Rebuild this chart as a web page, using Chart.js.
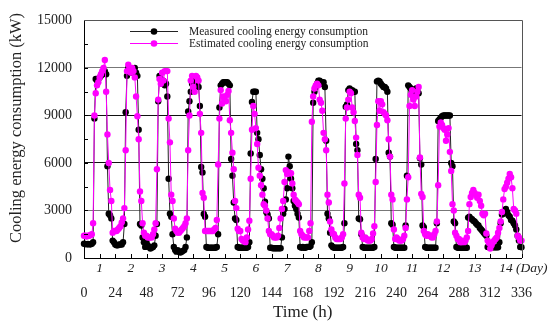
<!DOCTYPE html>
<html>
<head>
<meta charset="utf-8">
<script src="https://cdn.jsdelivr.net/npm/chart.js@4.4.1/dist/chart.umd.min.js"></script>
<style>
html,body{margin:0;padding:0;background:#fff;}
#c{display:block;}
</style>
</head>
<body>
<canvas id="c" width="559" height="324"></canvas>
<script>
// ---- data (hourly, one row per day, 24 values per row) ----
const measured = [
  [900,880,870,880,860,870,900,1000, 8800,11300,11200,11300,11400,11500,11600,11700,11800,11600, 5800,2800,2700,2500,1100,1000],
  [850,800,800,850,850,850,1000,2150, 9200,11500,12000,11800,11900,11700,11800,12000,11700,11500, 8100,2150,2050,1300,1000,700],
  [1000,800,700,600,650,700,800,1400, 2150,9900,11500,11300,11000,11200,10900,11000,10200,5000, 2800,2600,1500,700,500,400],
  [500,400,350,400,450,500,700,1300, 9250,9900,10500,11000,11200,11000,10800,11100,10800,9600, 5750,5400,2780,2600,700,650],
  [650,650,650,650,650,650,700,1500, 9500,10900,11000,11100,11100,11100,11100,11000,10900,6250, 5200,3500,2500,2400,700,650],
  [650,650,650,650,650,650,700,1000, 6600,9850,10500,10500,10500,7900,7500,6500,5600,5000, 4400,3550,2900,2750,2500,650],
  [650,620,620,620,620,620,620,620, 1300,2800,3100,3700,4400,6400,5800,5000,4400,3600, 3300,3100,2800,2550,700,650],
  [700,650,650,700,700,700,750,1000, 9800,10500,10800,11000,11200,11200,11100,11000,11100,10800, 7400,2800,2500,1600,800,700],
  [650,650,650,650,650,650,650,700, 2200,9550,9700,10600,10700,10600,10600,10500,10500,7200, 6800,2500,2450,1500,700,650],
  [650,650,650,650,650,650,650,700, 6250,11150,11200,11150,11000,10900,10800,10800,10700,10500, 6650,6400,2200,2100,700,650],
  [650,650,650,650,650,650,650,2050, 5200,10900,10800,10700,10600,10500,10600,10700,10700,10400, 6300,5900,2050,1950,700,650],
  [650,650,650,650,650,650,650,2200, 8650,8750,8850,8950,9000,9000,9000,9000,9000,9000, 6000,5800,2300,2200,700,650],
  [650,650,650,650,650,650,650,2550, 2600,2500,2450,2350,2300,2200,2100,2050,1900,1800, 1700,1600,1500,1400,700,680],
  [680,680,680,680,680,680,680,1000, 2200,2750,2800,2900,3100,2900,2700,2600,2400,2350, 2200,2050,1800,1400,1100,700]
];
const measuredLast = 680;

const estimated = [
  [1400,1400,1350,1400,1400,1450,1500,2200, 9000,10400,10900,11100,11400,11600,11800,12000,12500,10500, 7800,6000,4300,3600,1600,1700],
  [1700,1700,1800,1900,2000,2250,2500,3150, 6800,11800,12200,12000,11700,12000,11800,11400,10200,8950, 7500,4200,3600,2200,1600,1400],
  [1400,1300,1300,1300,1300,1500,1800,2200, 5600,10000,11300,11000,11700,11200,11800,11800,11800,8800, 7300,4000,3600,2500,1850,1700],
  [1600,1600,1700,1800,1900,2000,2200,2500, 6800,9000,11200,11500,10800,10500,11500,11400,11200,9100, 7900,4100,3800,1700,1700,1700],
  [1700,1700,1700,1700,1800,1900,2400,5900, 8800,10600,9750,10200,10000,9900,10300,10550,8700,7900, 6650,5600,3600,3150,1850,1700],
  [1700,1200,1100,1050,1000,1300,1800,2350, 5000,8100,9600,9100,8200,7200,5700,5200,4600,4000, 3400,3300,3000,2500,1700,1500],
  [1500,1400,1300,1300,1300,1400,1900,2500, 3100,3600,4800,5550,5300,5400,5350,5350,4700,4000, 3700,3600,3500,3400,1700,1500],
  [1400,1300,1300,1300,1300,1700,2200,8600, 10200,10700,10900,11000,10900,10000,9800,9300,7900,7500, 6800,4000,3500,2300,1800,1550],
  [1500,1300,1200,1200,1200,1200,1300,1500, 4700,8800,9500,10000,10500,10400,9500,9200,8650,7600, 6500,4000,3800,1600,1300,1200],
  [1300,1200,1100,1100,1100,1200,1550,2000, 4800,8400,9900,9300,9900,9700,9200,9100,9000,8700, 7500,6400,4000,3700,1800,1200],
  [1300,1200,1100,1100,1100,1200,1400,1900, 3700,5100,9600,10300,10600,10000,9600,10200,10500,10800, 6350,4050,3850,1700,1500,1400],
  [1500,1400,1400,1300,1300,1500,1700,2300, 4600,8300,8550,8400,8200,8100,7400,7800,8200,6700, 5500,3400,3000,1600,1400,1200],
  [1200,1000,1000,1100,1000,1100,1300,1700, 3400,3850,4100,4300,4100,4000,3800,4000,3600,3300, 2800,2700,2800,1550,1100,950],
  [600,800,1000,1100,1200,1300,1600,1900, 2300,2900,3700,4350,4500,4750,5000,5300,5100,4400, 3100,3000,2800,1400,1300,1100]
];
const estimatedLast = 1100;

const hourTicks = [0,24,48,72,96,120,144,168,192,216,240,264,288,312,336];
const dayLabels = ['1','2','3','4','5','6','7','8','9','10','11','12','13','14'];
const yTicks = [0,3000,6000,9000,12000,15000];
const seriesNames = ['Measured cooling energy consumption','Estimated cooling energy consumption'];
const xTitle = 'Time (h)';
const yTitle = 'Cooling energy consumption (kW)';
const dayUnit = ' (Day)';

// ---- build library tables from the arrays ----
function toPoints(rows, last){
  const flat = rows.flat().concat([last]);
  return flat.map((v,i)=>({x:i, y:v}));
}

const SERIF = '"Liberation Serif", "Times New Roman", serif';

const decor = {
  id:'decor',
  afterDraw(chart){
    const {ctx, chartArea:a, scales:{x, y}} = chart;
    ctx.save();
    // top and right border
    ctx.strokeStyle = '#555';
    ctx.lineWidth = 1;
    ctx.beginPath();
    ctx.moveTo(a.left, Math.round(a.top)+0.5);
    ctx.lineTo(Math.round(a.right)+0.5, Math.round(a.top)+0.5);
    ctx.lineTo(Math.round(a.right)+0.5, a.bottom);
    ctx.stroke();
    // inward tick marks
    ctx.strokeStyle = '#000';
    ctx.beginPath();
    for (let h = 0; h <= 336; h += 12){
      const px = Math.round(x.getPixelForValue(h)) + 0.5;
      ctx.moveTo(px, a.bottom);
      ctx.lineTo(px, a.bottom - 4);
    }
    for (let v = 1500; v < 15000; v += 1500){
      const py = Math.round(y.getPixelForValue(v)) + 0.5;
      ctx.moveTo(a.left, py);
      ctx.lineTo(a.left + 4, py);
    }
    ctx.stroke();
    // day labels
    ctx.fillStyle = '#222';
    ctx.font = 'italic 13.5px ' + SERIF;
    ctx.textBaseline = 'middle';
    dayLabels.forEach((d,i)=>{
      const px = x.getPixelForValue(12 + 24*i);
      if (i === dayLabels.length - 1){
        const w = ctx.measureText(d).width;
        ctx.textAlign = 'left';
        ctx.fillText(d + dayUnit, px - w/2, 268);
      } else {
        ctx.textAlign = 'center';
        ctx.fillText(d, px, 268);
      }
    });
    // axis titles
    ctx.font = '17px ' + SERIF;
    ctx.textAlign = 'center';
    ctx.fillStyle = '#222';
    ctx.fillText(xTitle, (a.left + a.right)/2, 313);
    ctx.save();
    ctx.translate(17, 128);
    ctx.rotate(-Math.PI/2);
    ctx.font = '16.5px ' + SERIF;
    ctx.fillText(yTitle, 0, 0);
    ctx.restore();
    // legend
    const rows = [{c:'#000', lc:'#222', yy:31, t:seriesNames[0]}, {c:'#ff00ff', lc:'#ff00ff', yy:43, t:seriesNames[1]}];
    ctx.font = '11.5px ' + SERIF;
    ctx.textAlign = 'left';
    rows.forEach(r=>{
      ctx.strokeStyle = r.lc;
      ctx.lineWidth = 1;
      ctx.beginPath();
      ctx.moveTo(130, r.yy + 0.5);
      ctx.lineTo(178, r.yy + 0.5);
      ctx.stroke();
      ctx.fillStyle = r.c;
      ctx.beginPath();
      ctx.arc(154, r.yy + 0.5, 3.3, 0, Math.PI*2);
      ctx.fill();
      ctx.fillStyle = '#222';
      ctx.fillText(r.t, 189, r.yy + 0.5);
    });
    ctx.restore();
  }
};

new Chart(document.getElementById('c'), {
  type: 'line',
  data: {
    datasets: [
      {
        label: seriesNames[0],
        data: toPoints(measured, measuredLast),
        borderColor: '#222',
        backgroundColor: '#000',
        borderWidth: 1,
        pointRadius: 3.2,
        pointBorderWidth: 0,
        pointBackgroundColor: '#000',
        tension: 0,
        order: 2,
        clip: 6
      },
      {
        label: seriesNames[1],
        data: toPoints(estimated, estimatedLast),
        borderColor: '#ff00ff',
        backgroundColor: '#ff00ff',
        borderWidth: 1,
        pointRadius: 3.2,
        pointBorderWidth: 0,
        pointBackgroundColor: '#ff00ff',
        tension: 0,
        order: 1,
        clip: 6
      }
    ]
  },
  options: {
    responsive: false,
    animation: false,
    events: [],
    layout: { padding: { left: 0, right: 21, top: 15, bottom: 0 } },
    plugins: { legend: { display: false }, tooltip: { enabled: false }, title: {display:false} },
    scales: {
      x: {
        type: 'linear',
        min: 0, max: 336,
        afterFit(s){ s.height = 66; },
        afterBuildTicks(s){ s.ticks = hourTicks.map(v=>({value:v})); },
        ticks: { padding: 27, maxRotation: 0, autoSkip: false, color: '#222', font: { family: SERIF, size: 14 }, callback: v => String(v) },
        grid: { display: false, drawTicks: false },
        border: { display: true, color: '#000', width: 1 }
      },
      y: {
        min: 0, max: 15000,
        afterFit(s){ s.width = 84; },
        afterBuildTicks(s){ s.ticks = yTicks.map(v=>({value:v})); },
        ticks: { padding: 12, color: '#222', font: { family: SERIF, size: 14 }, callback: v => String(v) },
        grid: {
          drawTicks: false,
          color: c => (c.tick && (c.tick.value === 3000 || c.tick.value === 12000)) ? '#777' : '#111',
          lineWidth: 1
        },
        border: { display: true, color: '#000', width: 1 }
      }
    }
  },
  plugins: [decor]
});
</script>
</body>
</html>
